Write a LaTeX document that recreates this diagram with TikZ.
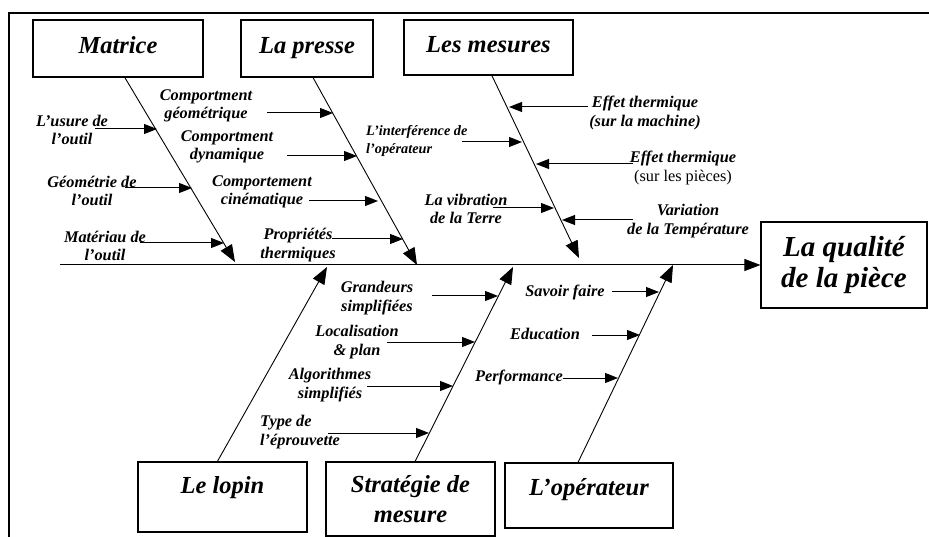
\documentclass[tikz,border=0pt]{standalone}
\usepackage{fontspec}
\setmainfont{Liberation Serif}
\usetikzlibrary{arrows.meta,calc}
\begin{document}
\begin{tikzpicture}[x=1pt,y=-1pt,
  box/.style={draw, line width=1.1pt, inner sep=0pt, align=center,
    font=\fontsize{24.5}{30}\selectfont\bfseries\itshape},
  lbl/.style={inner sep=0pt, align=center,
    font=\fontsize{16.3}{18.5}\selectfont\bfseries\itshape},
  bone/.style={line width=0.9pt, -{Triangle[length=17pt,width=13pt]}},
  twig/.style={line width=1pt, -{Triangle[length=13pt,width=10pt]}},
  frameline/.style={line width=1.1pt}]
\useasboundingbox (0,0) rectangle (929,537);
% frame
\coordinate (fTR) at (929,13);
\coordinate (fTL) at (9,13);
\coordinate (fBL) at (9,537);
\draw[frameline] (fTR) -- (fTL) -- (fBL);

% boxes
\node[box, minimum width=170pt, minimum height=57pt, text height=17pt, text depth=6pt] (matrice) at (118,48.5) {Matrice};
\node[box, minimum width=132pt, minimum height=57pt, text height=17pt, text depth=6pt] (presse) at (307,48.5) {La presse};
\node[box, minimum width=169pt, minimum height=55pt, text height=17pt, text depth=6pt] (mesures) at (488.5,47.5) {Les mesures};
\node[box, minimum width=166pt, minimum height=86pt,
  font=\fontsize{29}{31}\selectfont\bfseries\itshape] (qualite) at (844,265) {La qualité\\de la pièce};
\node[box, minimum width=169pt, minimum height=70pt, text height=8pt, text depth=16pt] (lopin) at (222.5,497) {Le lopin};
\node[box, minimum width=169pt, minimum height=74pt] (strat) at (410.5,499) {Stratégie de\\mesure};
\node[box, minimum width=168pt, minimum height=65pt, text height=12pt, text depth=12pt] (oper) at (589,495.5) {L’opérateur};

% spine
\coordinate (spineL) at (60,265);
\draw[line width=1pt, -{Triangle[length=16pt,width=12pt]}] (spineL) -- (qualite.west);

% bones
\coordinate (tMat) at (235,262);
\coordinate (tPre) at (417,265);
\coordinate (tMes) at (579,258);
\coordinate (tLop) at (327,267);
\coordinate (tStr) at (513,267);
\coordinate (tOpe) at (673,265);
\draw[bone] ($(matrice.south west)!0.54!(matrice.south east)$) -- (tMat);
\draw[bone] ($(presse.south west)!0.545!(presse.south east)$) -- (tPre);
\draw[bone] ($(mesures.south west)!0.52!(mesures.south east)$) -- (tMes);
\draw[bone] ($(lopin.north west)!0.47!(lopin.north east)$) -- (tLop);
\draw[bone] ($(strat.north west)!0.527!(strat.north east)$) -- (tStr);
\draw[bone] ($(oper.north west)!0.435!(oper.north east)$) -- (tOpe);

% labels - Matrice
\node[lbl] (l1) at (72,130) {L’usure de\\l’outil};
\node[lbl] (l2) at (92,191) {Géométrie de\\l’outil};
\node[lbl] (l3) at (105,246) {Matériau de\\l’outil};
% La presse
\node[lbl] (l4) at (206,106) {Comportment\\géométrique};
\node[lbl] (l5) at (227,147) {Comportment\\dynamique};
\node[lbl] (l6) at (262,192) {Comportement\\cinématique};
\node[lbl] (l7) at (298,245) {Propriétés\\thermiques};
% Les mesures
\node[lbl, anchor=west, align=left, font=\fontsize{14.3}{18}\selectfont\bfseries\itshape] (l8) at (366,141) {L’interférence de\\l’opérateur};
\node[lbl] (l9) at (645,113) {Effet thermique\\(sur la machine)};
\node[lbl] (l10) at (683,168) {Effet thermique\\{\normalfont\mdseries\upshape (sur les pièces)}};
\node[lbl] (l11) at (466,209) {La vibration\\de la Terre};
\node[lbl] (l12) at (688,221) {Variation\\de la Température};
% Strategie
\node[lbl] (l13) at (377,298) {Grandeurs\\simplifiées};
\node[lbl] (l14) at (357,342) {Localisation\\\& plan};
\node[lbl] (l15) at (330,385) {Algorithmes\\simplifiés};
\node[lbl, anchor=west, align=left] (l16) at (260,432) {Type de\\l’éprouvette};
% Operateur
\node[lbl] (l17) at (565,292) {Savoir faire};
\node[lbl] (l18) at (545,334) {Education};
\node[lbl] (l19) at (519,377) {Performance};

% twigs
\foreach \n/\ax/\bx/\y in {a1/95/157/129, a2/125/192/188, a3/140/224/243,
  a4/267/333/113, a5/287/357/156, a6/309/378/201, a7/332/403/239,
  a8/462/522/142, a9/588/509/107, a10/633/536/164, a11/493/554/208, a12/633/562/220,
  a13/432/498/296, a14/387/475/342, a15/367/453/386, a16/328/429/433,
  a17/612/659/292, a18/592/640/335, a19/563/618/378}{
  \coordinate (\n s) at (\ax,\y);
  \coordinate (\n e) at (\bx,\y);
  \draw[twig] (\n s) -- (\n e);
}
\end{tikzpicture}
\end{document}
